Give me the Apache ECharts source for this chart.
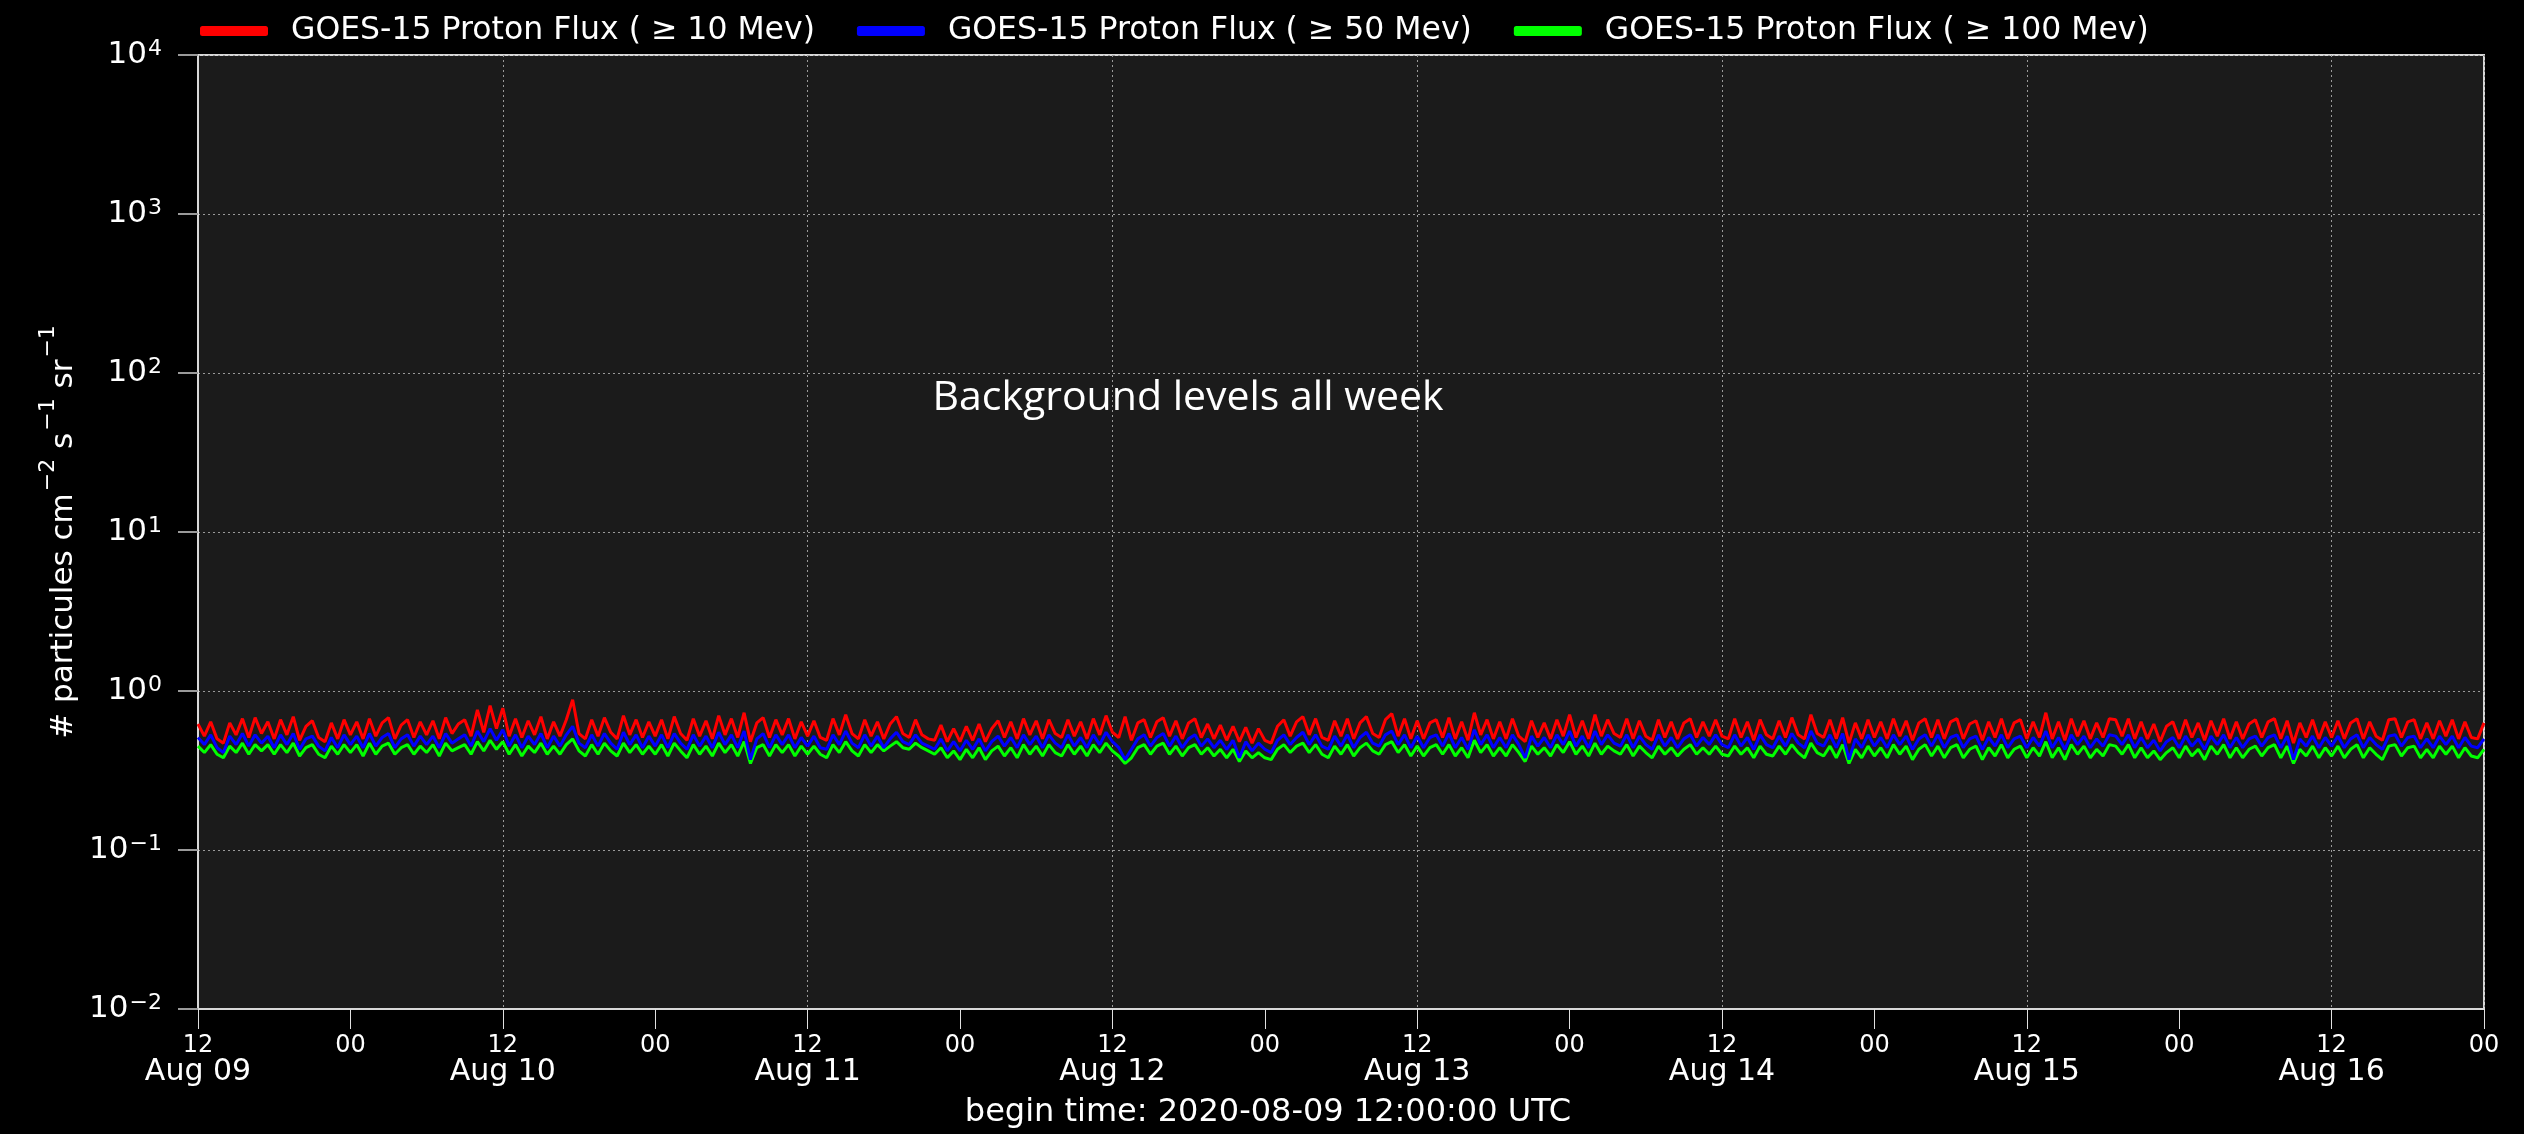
<!DOCTYPE html>
<html>
<head>
<meta charset="utf-8">
<script src="https://cdn.jsdelivr.net/npm/echarts@6/dist/echarts.min.js"></script>
<style>
html,body{margin:0;padding:0;background:#000;}
#chart{width:2524px;height:1134px;}
</style>
</head>
<body>
<div id="chart"></div>
<script>
// ---- data ----
const beginTimeUTC = Date.UTC(2020, 7, 9, 12, 0, 0);   // 2020-08-09 12:00 UTC
const sampleStepHours = 0.5;                          // one sample every 30 min
const spanHours = 180;                                // Aug 09 12:00 -> Aug 17 00:00

const seriesNames = [
  'GOES-15 Proton Flux ( \u2265 10 Mev)',
  'GOES-15 Proton Flux ( \u2265 50 Mev)',
  'GOES-15 Proton Flux ( \u2265 100 Mev)'
];

const flux10 = [
0.62,0.52,0.64,0.50,0.47,0.63,0.53,0.67,0.51,0.68,0.54,0.64,0.50,0.66,0.53,0.69,0.49,0.60,0.65,0.51,0.48,0.63,0.50,0.66,
0.53,0.64,0.50,0.67,0.52,0.63,0.68,0.50,0.61,0.66,0.51,0.64,0.53,0.65,0.50,0.68,0.54,0.62,0.66,0.52,0.76,0.55,0.81,0.58,
0.78,0.52,0.67,0.51,0.65,0.53,0.69,0.50,0.64,0.52,0.66,0.88,0.54,0.50,0.66,0.52,0.68,0.55,0.50,0.70,0.53,0.66,0.51,0.64,
0.52,0.66,0.50,0.69,0.54,0.49,0.67,0.52,0.65,0.50,0.70,0.53,0.67,0.51,0.73,0.48,0.63,0.68,0.51,0.66,0.53,0.67,0.50,0.64,
0.52,0.65,0.51,0.49,0.67,0.53,0.71,0.54,0.50,0.66,0.52,0.64,0.50,0.62,0.69,0.54,0.51,0.66,0.53,0.50,0.49,0.61,0.48,0.58,
0.48,0.60,0.49,0.62,0.48,0.58,0.65,0.51,0.64,0.50,0.67,0.53,0.65,0.50,0.66,0.54,0.51,0.66,0.52,0.64,0.50,0.67,0.53,0.70,
0.55,0.51,0.69,0.49,0.63,0.66,0.51,0.64,0.68,0.52,0.65,0.50,0.63,0.67,0.51,0.62,0.50,0.61,0.49,0.60,0.48,0.59,0.47,0.58,
0.49,0.47,0.60,0.66,0.52,0.64,0.69,0.53,0.67,0.51,0.49,0.65,0.52,0.67,0.50,0.63,0.69,0.54,0.51,0.66,0.72,0.52,0.67,0.50,
0.65,0.50,0.63,0.66,0.51,0.68,0.50,0.64,0.49,0.73,0.53,0.66,0.50,0.64,0.50,0.67,0.52,0.48,0.65,0.51,0.63,0.50,0.66,0.52,
0.71,0.51,0.65,0.50,0.71,0.52,0.66,0.54,0.51,0.67,0.50,0.65,0.52,0.49,0.66,0.51,0.64,0.50,0.63,0.67,0.51,0.64,0.52,0.66,
0.52,0.50,0.67,0.51,0.64,0.49,0.66,0.53,0.50,0.65,0.51,0.68,0.53,0.50,0.71,0.54,0.51,0.66,0.50,0.68,0.47,0.63,0.50,0.66,
0.51,0.64,0.50,0.67,0.52,0.65,0.49,0.63,0.67,0.51,0.66,0.50,0.64,0.67,0.50,0.62,0.65,0.49,0.64,0.51,0.67,0.50,0.63,0.66,
0.50,0.64,0.51,0.73,0.50,0.64,0.49,0.67,0.52,0.65,0.50,0.63,0.51,0.67,0.66,0.52,0.67,0.50,0.64,0.50,0.62,0.48,0.60,0.64,
0.50,0.66,0.51,0.63,0.49,0.65,0.52,0.67,0.50,0.64,0.50,0.62,0.66,0.51,0.64,0.67,0.50,0.65,0.47,0.63,0.51,0.66,0.50,0.64,
0.51,0.65,0.50,0.63,0.67,0.50,0.64,0.52,0.49,0.66,0.67,0.51,0.64,0.66,0.50,0.63,0.50,0.65,0.52,0.66,0.50,0.64,0.51,0.50,0.63
];

const flux50 = [
0.51,0.46,0.53,0.44,0.41,0.52,0.46,0.54,0.45,0.53,0.47,0.52,0.44,0.53,0.46,0.54,0.43,0.50,0.52,0.45,0.42,0.51,0.44,0.53,
0.46,0.52,0.44,0.54,0.45,0.51,0.54,0.44,0.50,0.53,0.45,0.52,0.46,0.52,0.44,0.54,0.47,0.50,0.53,0.45,0.56,0.48,0.58,0.49,
0.57,0.45,0.53,0.44,0.52,0.46,0.54,0.44,0.52,0.45,0.53,0.60,0.47,0.44,0.53,0.45,0.54,0.47,0.43,0.55,0.46,0.53,0.44,0.52,
0.45,0.53,0.44,0.54,0.47,0.43,0.53,0.45,0.52,0.44,0.55,0.46,0.53,0.44,0.56,0.37,0.50,0.54,0.44,0.53,0.46,0.53,0.44,0.51,
0.45,0.52,0.44,0.43,0.53,0.46,0.56,0.47,0.44,0.53,0.45,0.52,0.44,0.50,0.55,0.48,0.46,0.53,0.47,0.45,0.43,0.50,0.42,0.48,
0.42,0.49,0.43,0.50,0.42,0.48,0.52,0.45,0.51,0.44,0.53,0.46,0.52,0.44,0.53,0.47,0.44,0.53,0.45,0.51,0.44,0.53,0.46,0.55,
0.48,0.44,0.37,0.43,0.50,0.53,0.45,0.51,0.54,0.45,0.52,0.44,0.50,0.53,0.45,0.50,0.44,0.49,0.43,0.49,0.38,0.48,0.42,0.47,
0.43,0.41,0.49,0.53,0.46,0.51,0.55,0.46,0.53,0.45,0.43,0.52,0.45,0.53,0.44,0.51,0.55,0.47,0.45,0.53,0.56,0.46,0.53,0.44,
0.52,0.44,0.51,0.53,0.45,0.54,0.44,0.51,0.43,0.57,0.46,0.53,0.44,0.51,0.44,0.53,0.46,0.38,0.52,0.45,0.51,0.44,0.53,0.46,
0.56,0.45,0.52,0.44,0.56,0.46,0.53,0.47,0.45,0.53,0.44,0.52,0.46,0.43,0.53,0.45,0.51,0.44,0.50,0.53,0.45,0.51,0.46,0.53,
0.46,0.44,0.53,0.45,0.51,0.43,0.53,0.46,0.44,0.52,0.45,0.54,0.47,0.44,0.56,0.47,0.45,0.53,0.44,0.54,0.37,0.50,0.44,0.53,
0.45,0.51,0.44,0.53,0.46,0.52,0.43,0.50,0.53,0.45,0.53,0.44,0.51,0.53,0.44,0.50,0.52,0.43,0.51,0.45,0.53,0.44,0.50,0.52,
0.44,0.51,0.45,0.56,0.44,0.51,0.43,0.53,0.46,0.52,0.44,0.50,0.45,0.53,0.52,0.46,0.53,0.44,0.51,0.44,0.49,0.42,0.48,0.51,
0.44,0.52,0.45,0.50,0.43,0.52,0.46,0.53,0.44,0.51,0.44,0.50,0.52,0.45,0.51,0.53,0.44,0.52,0.37,0.50,0.45,0.52,0.44,0.51,
0.45,0.52,0.44,0.50,0.53,0.44,0.51,0.46,0.43,0.52,0.53,0.45,0.51,0.52,0.44,0.50,0.44,0.52,0.46,0.52,0.44,0.51,0.45,0.44,0.50
];

const flux100 = [
0.45,0.41,0.46,0.40,0.38,0.45,0.41,0.47,0.40,0.46,0.42,0.46,0.40,0.46,0.41,0.47,0.39,0.44,0.46,0.40,0.38,0.45,0.40,0.46,
0.41,0.46,0.39,0.47,0.40,0.45,0.47,0.40,0.44,0.46,0.40,0.45,0.41,0.46,0.39,0.47,0.42,0.44,0.46,0.40,0.48,0.42,0.49,0.43,
0.48,0.40,0.46,0.39,0.45,0.41,0.47,0.40,0.45,0.40,0.46,0.50,0.42,0.39,0.46,0.40,0.47,0.42,0.39,0.47,0.41,0.46,0.40,0.45,
0.40,0.46,0.39,0.47,0.42,0.38,0.46,0.40,0.45,0.39,0.47,0.41,0.46,0.39,0.48,0.35,0.44,0.46,0.39,0.46,0.41,0.46,0.39,0.45,
0.40,0.45,0.40,0.38,0.46,0.41,0.48,0.42,0.39,0.46,0.41,0.46,0.42,0.45,0.48,0.44,0.43,0.47,0.44,0.42,0.40,0.44,0.38,0.42,
0.37,0.43,0.38,0.44,0.37,0.42,0.45,0.39,0.44,0.38,0.46,0.40,0.45,0.39,0.46,0.41,0.39,0.46,0.40,0.45,0.39,0.46,0.41,0.47,
0.42,0.39,0.35,0.38,0.44,0.46,0.40,0.45,0.47,0.40,0.45,0.39,0.44,0.46,0.40,0.44,0.39,0.43,0.38,0.43,0.36,0.42,0.38,0.41,
0.38,0.37,0.43,0.46,0.41,0.45,0.47,0.41,0.46,0.40,0.38,0.45,0.40,0.46,0.39,0.44,0.47,0.42,0.40,0.46,0.48,0.41,0.46,0.39,
0.45,0.39,0.44,0.46,0.40,0.46,0.39,0.44,0.38,0.49,0.41,0.46,0.39,0.44,0.39,0.46,0.41,0.36,0.45,0.40,0.44,0.39,0.46,0.41,
0.48,0.40,0.45,0.39,0.47,0.40,0.45,0.42,0.40,0.46,0.39,0.45,0.41,0.38,0.45,0.40,0.44,0.39,0.43,0.46,0.40,0.44,0.40,0.45,
0.40,0.39,0.45,0.40,0.44,0.38,0.45,0.40,0.39,0.45,0.40,0.46,0.41,0.38,0.47,0.41,0.39,0.45,0.38,0.46,0.35,0.43,0.38,0.45,
0.39,0.44,0.38,0.46,0.40,0.45,0.37,0.43,0.46,0.39,0.45,0.38,0.44,0.46,0.38,0.43,0.45,0.37,0.44,0.39,0.46,0.38,0.43,0.45,
0.38,0.44,0.39,0.48,0.38,0.44,0.37,0.46,0.40,0.45,0.38,0.43,0.39,0.46,0.45,0.40,0.46,0.38,0.44,0.38,0.42,0.37,0.41,0.44,
0.38,0.45,0.39,0.43,0.37,0.45,0.40,0.46,0.38,0.44,0.38,0.43,0.45,0.39,0.44,0.46,0.38,0.45,0.35,0.43,0.39,0.45,0.38,0.44,
0.39,0.45,0.38,0.43,0.46,0.38,0.44,0.40,0.37,0.45,0.46,0.39,0.44,0.45,0.38,0.43,0.38,0.45,0.40,0.45,0.38,0.44,0.39,0.38,0.43
];

const yMin = 1e-2, yMax = 1e4;
const annotationText = 'Background levels all week';
const beginTimeText = 'begin time: 2020-08-09 12:00:00 UTC';
const months = ['Jan','Feb','Mar','Apr','May','Jun','Jul','Aug','Sep','Oct','Nov','Dec'];

// ---- chart ----
const FONT = 'DejaVu Sans';
const chart = echarts.init(document.getElementById('chart'), null, {renderer: 'canvas'});

function pairs(arr) { return arr.map((v, i) => [i * sampleStepHours, v]); }
function pad2(n) { return (n < 10 ? '0' : '') + n; }
function xLabel(h) {
  const d = new Date(beginTimeUTC + h * 3600e3);
  const hh = d.getUTCHours();
  if (hh === 12) return '{a|12}\n{b|' + months[d.getUTCMonth()] + ' ' + pad2(d.getUTCDate()) + '}';
  return '{a|' + pad2(hh) + '}';
}
function yLabel(v) {
  const e = Math.round(Math.log10(v));
  return '{b|10}{s|' + (e < 0 ? '\u2212' + (-e) : e) + '}';
}

const colors = ['#ff0000', '#0000ff', '#00ff00'];
const fluxes = [flux10, flux50, flux100];

const option = {
  backgroundColor: '#000000',
  animation: false,
  textStyle: {fontFamily: FONT},
  grid: {
    left: 198, right: 40, top: 55, bottom: 125,
    show: true, backgroundColor: '#1b1b1b', borderColor: '#d8d8d8', borderWidth: 2,
    containLabel: false
  },
  legend: {
    left: 195, top: 10,
    icon: 'roundRect',
    itemWidth: 68, itemHeight: 10, itemGap: 42,
    textStyle: {color: '#ffffff', fontSize: 31.5, fontFamily: FONT, padding: [0, 0, 0, 18]},
    data: seriesNames
  },
  xAxis: [{
    type: 'value', min: 0, max: spanHours, interval: 12,
    axisLine: {show: true, lineStyle: {color: '#d8d8d8', width: 2}},
    axisTick: {show: true, inside: false, length: 20, lineStyle: {color: '#e0e0e0', width: 1}},
    axisLabel: {
      show: true, margin: 25, color: '#ffffff', fontFamily: FONT,
      formatter: xLabel,
      rich: {
        a: {fontSize: 24, lineHeight: 24, color: '#ffffff', fontFamily: FONT},
        b: {fontSize: 30, lineHeight: 28, color: '#ffffff', fontFamily: FONT}
      }
    },
    splitLine: {show: false}
  }, {
    type: 'value', min: 0, max: spanHours, interval: 24, position: 'top',
    axisLine: {show: false}, axisTick: {show: false}, axisLabel: {show: false},
    splitLine: {show: true, lineStyle: {color: '#9a9a9a', width: 1, type: [2, 3]}}
  }],
  yAxis: {
    type: 'log', logBase: 10, min: yMin, max: yMax, interval: 1,
    axisLine: {show: true, lineStyle: {color: '#d8d8d8', width: 2}},
    axisTick: {show: true, inside: false, length: 20, lineStyle: {color: '#9a9a9a', width: 2}},
    axisLabel: {
      show: true, margin: 36, color: '#ffffff', fontFamily: FONT,
      formatter: yLabel,
      rich: {
        b: {fontSize: 31, lineHeight: 36, verticalAlign: 'middle', color: '#ffffff', fontFamily: FONT},
        s: {fontSize: 22, lineHeight: 36, verticalAlign: 'middle', padding: [0, 0, 12, 1], color: '#ffffff', fontFamily: FONT}
      }
    },
    splitLine: {show: true, lineStyle: {color: '#9a9a9a', width: 1, type: [2, 3]}},
    minorTick: {show: false}
  },
  graphic: [
    {
      type: 'text', x: 1188, y: 398, z: 100,
      style: {text: annotationText, fill: '#ffffff', font: '41px "Open Sans"', align: 'center', verticalAlign: 'middle'}
    },
    {
      type: 'text', x: 1268, y: 1113, z: 100,
      style: {text: beginTimeText, fill: '#ffffff', font: '32px "DejaVu Sans"', align: 'center', verticalAlign: 'middle'}
    },
    {
      type: 'text', x: 58, y: 532, rotation: Math.PI / 2, z: 100,
      style: {
        text: '{m|# particules cm}{s|\u22122}{m| s}{s|\u22121}{m| sr}{s|\u22121}',
        fill: '#ffffff', align: 'center', verticalAlign: 'middle',
        rich: {
          m: {fontSize: 31, lineHeight: 42, verticalAlign: 'bottom', fontFamily: FONT, fill: '#ffffff'},
          s: {fontSize: 22, lineHeight: 42, verticalAlign: 'top', fontFamily: FONT, fill: '#ffffff', padding: [0, 0, 0, 2]}
        }
      }
    }
  ],
  series: seriesNames.map((name, k) => ({
    name: name,
    type: 'line',
    xAxisIndex: 0,
    data: pairs(fluxes[k]),
    showSymbol: false,
    symbol: 'none',
    z: 5 - k,
    lineStyle: {color: colors[k], width: 3},
    itemStyle: {color: colors[k]},
    emphasis: {disabled: true}
  }))
};
chart.setOption(option);
</script>
</body>
</html>
